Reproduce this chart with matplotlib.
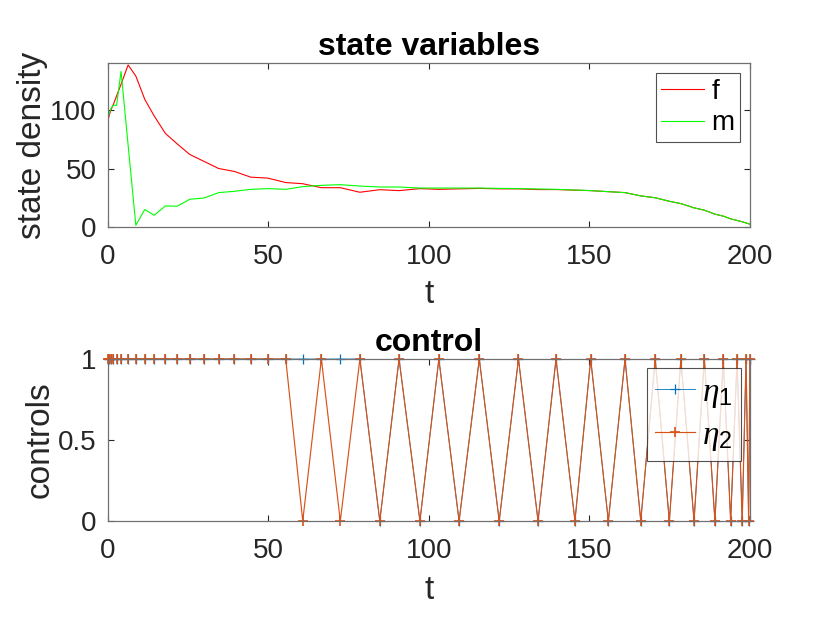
import matplotlib.pyplot as plt
import numpy as np

plt.rcParams['font.family'] = ['Liberation Sans', 'DejaVu Sans']
plt.rcParams['mathtext.fontset'] = 'custom'
plt.rcParams['mathtext.it'] = 'Liberation Serif:italic'
plt.rcParams['mathtext.rm'] = 'Liberation Sans'

# grade de tempo (não uniforme)
t = [0, 0.4, 0.9, 1.6, 2.7, 4.1, 6.3, 8.7, 11.5, 14.4, 17.9, 21.6, 25.5,
     30.0, 34.5, 39.4, 44.5, 49.8, 55.4, 60.7, 66.5, 72.4, 78.5, 84.7,
     90.7, 97.2, 103.1, 109.4, 115.7, 121.9, 127.9, 134.0, 139.6, 145.5,
     150.4, 155.9, 161.1, 166.0, 170.5, 174.9, 178.5, 182.6, 185.8, 189.1,
     191.7, 194.0, 196.0, 197.6, 198.8, 199.6, 200]

# variáveis de estado
f = [91, 95, 100, 104, 112, 122, 138.5, 129, 109, 95, 80, 71, 62,
     56, 50, 47.5, 42.6, 41.8, 38, 37, 33.6, 33.6, 29.7, 31.9,
     31.1, 32.8, 32.2, 32.6, 33, 32.6, 32.6, 32, 32, 31.5,
     31.1, 30.2, 29.4, 26.6, 25, 22, 20, 16.4, 14.4, 11,
     9.3, 7, 5.6, 4.5, 3.5, 2.8, 2.3]
m = [92, 97, 101, 104, 104, 133, 70, 1.5, 15, 10, 18, 17.8, 23.7,
     24.8, 29.4, 30.5, 32.2, 32.8, 32.2, 34.5, 35.6, 36.2, 35, 34.2,
     34.2, 33.3, 33.3, 33.3, 33.3, 33, 32.8, 32.5, 32.2, 31.6,
     31.1, 30.2, 29.4, 26.6, 25, 22, 20, 16.4, 14.4, 11,
     9.3, 7, 5.6, 4.5, 3.5, 2.8, 2.3]

# controles
eta2 = [1] * 19 + [0, 1, 0, 1, 0, 1, 0, 1, 0, 1, 0, 1, 0, 1, 0, 1, 0,
                   1, 0, 1, 0, 1, 0, 1, 0, 1, 0, 1, 0, 1, 0, 1]
eta1 = [1] * 22 + eta2[22:]

cor_eixo = '#262626'
fs_tick = 20
fs_label = 24
fs_title = 23


def estilo(ax):
    ax.tick_params(direction='in', length=4, width=0.8, colors=cor_eixo,
                   labelsize=fs_tick, top=True, right=True)
    ax.tick_params(axis='x', pad=12)
    ax.tick_params(axis='y', pad=8)
    for s in ax.spines.values():
        s.set_color('#707070')
        s.set_linewidth(0.9)


fig = plt.figure(figsize=(8.3, 6.23), dpi=100)

# Gráfico de cima
ax1 = fig.add_axes([0.130, 0.6356, 0.7735, 0.263])
ax1.plot(t, f, color='#ff0000', lw=0.8, label='f')
ax1.plot(t, m, color='#00ff00', lw=0.8, label='m')
ax1.set_xlim(0, 200)
ax1.set_ylim(0, 140)
ax1.set_xticks([0, 50, 100, 150, 200])
ax1.set_yticks([0, 50, 100])
ax1.set_xlabel('t', fontsize=fs_label, color=cor_eixo, labelpad=7)
ax1.set_ylabel('state density', fontsize=fs_label, color=cor_eixo, labelpad=2)
ax1.set_title('state variables', fontsize=fs_title, fontweight='bold', pad=6)
estilo(ax1)
leg1 = ax1.legend(loc='upper right', fontsize=fs_tick, handlelength=1.55,
                  fancybox=False, borderaxespad=0.36, handletextpad=0.25,
                  borderpad=0.2, labelspacing=0.2)
leg1.get_frame().set_edgecolor(cor_eixo)
leg1.get_frame().set_linewidth(0.8)

# Gráfico de baixo
ax2 = fig.add_axes([0.130, 0.1637, 0.7735, 0.260])
ax2.plot(t, eta1, color='#0072BD', lw=0.6, marker='+', ms=7, mew=0.9,
         label=r'$\eta_1$')
ax2.plot(t, eta2, color='#D95319', lw=0.85, marker='+', ms=7, mew=1.2,
         label=r'$\eta_2$')
ax2.set_xlim(0, 200)
ax2.set_ylim(0, 1)
ax2.set_xticks([0, 50, 100, 150, 200])
ax2.set_yticks([0, 0.5, 1])
ax2.set_yticklabels(['0', '0.5', '1'])
ax2.set_xlabel('t', fontsize=fs_label, color=cor_eixo, labelpad=8)
ax2.set_ylabel('controls', fontsize=fs_label, color=cor_eixo, labelpad=2)
ax2.set_title('control', fontsize=fs_title, fontweight='bold', pad=6)
estilo(ax2)
for ln in ax2.lines:
    ln.set_clip_on(False)
leg2 = ax2.legend(loc='upper right', fontsize=fs_label, handlelength=1.2,
                  fancybox=False, borderaxespad=0.28, handletextpad=0.2,
                  borderpad=0.25, labelspacing=0.3)
leg2.get_frame().set_edgecolor(cor_eixo)
leg2.get_frame().set_linewidth(0.8)

fig.savefig('out.png', dpi=100)
